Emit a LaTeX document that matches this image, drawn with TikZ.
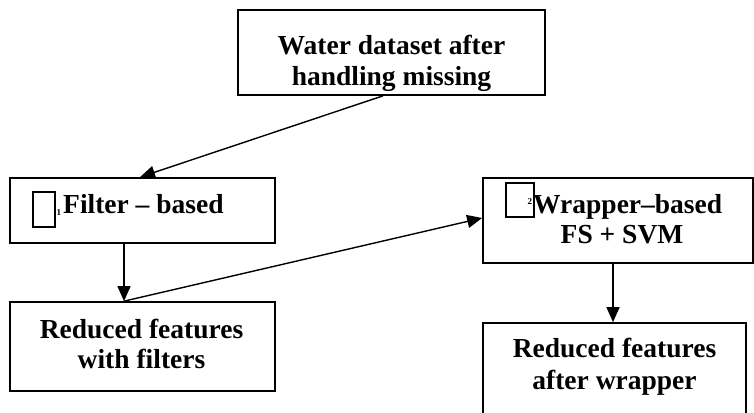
\documentclass[tikz,border=0pt]{standalone}
\usepackage{fontspec}
\setmainfont{Liberation Serif}
\usetikzlibrary{arrows.meta}
\begin{document}
\begin{tikzpicture}[x=1pt,y=-1pt,
  box/.style={draw,line width=1.7pt,inner sep=0pt},
  lbl/.style={anchor=base,inner sep=0pt,font=\bfseries\fontsize{27.5}{30}\selectfont},
  tiny/.style={anchor=base west,inner sep=0pt,font=\bfseries\fontsize{9}{10}\selectfont},
  sqbox/.style={draw,line width=1.3pt,inner sep=0pt},
  flow/.style={line width=1.4pt,-{Triangle[length=15pt,width=13pt]}}]
\useasboundingbox (0,0) rectangle (754,412);
% boxes
\node[box,minimum width=307pt,minimum height=85pt] (top) at (391.5,52.5) {};
\node[box,minimum width=265pt,minimum height=65pt] (filt) at (142.5,210.5) {};
\node[box,minimum width=270pt,minimum height=85pt] (wrap) at (618,220.5) {};
\node[box,minimum width=265pt,minimum height=89pt] (red1) at (142.5,346.5) {};
\node[box,minimum width=263pt,minimum height=100pt] (red2) at (614.5,373) {};
% labels
\node[lbl] (t1) at (391.5,55) {Water dataset after};
\node[lbl] (t2) at (391.5,85) {handling missing};
\node[lbl,anchor=base west] (f1) at (63,213) {Filter – based};
\node[sqbox,minimum width=22pt,minimum height=35pt] (fm) at (44,209.5) {};
\node[tiny] (fn) at (56.5,215) {1};
\node[lbl,anchor=base west] (w1) at (533,213) {Wrapper–based};
\node[lbl] (w2) at (622,243) {FS + SVM};
\node[sqbox,minimum width=28pt,minimum height=34pt] (wm) at (520,200) {};
\node[tiny] (wn) at (527.5,204.5) {2};
\node[lbl] (r1) at (141.5,338) {Reduced features};
\node[lbl] (r2) at (141.5,368) {with filters};
\node[lbl] (s1) at (614.5,357) {Reduced features};
\node[lbl] (s2) at (614.5,389) {after wrapper};
% connectors
\draw[flow] ([xshift=-8.5pt]top.south) -- ([xshift=-2.5pt]filt.north);
\draw[flow] ([xshift=-18.5pt]filt.south) -- ([xshift=-18.5pt]red1.north);
\draw[flow] ([xshift=-18.5pt]red1.north) -- ([yshift=2.5pt]wrap.west);
\draw[flow] ([xshift=-5pt]wrap.south) -- ([xshift=-5pt]wrap.south |- red2.north);
\end{tikzpicture}
\end{document}
